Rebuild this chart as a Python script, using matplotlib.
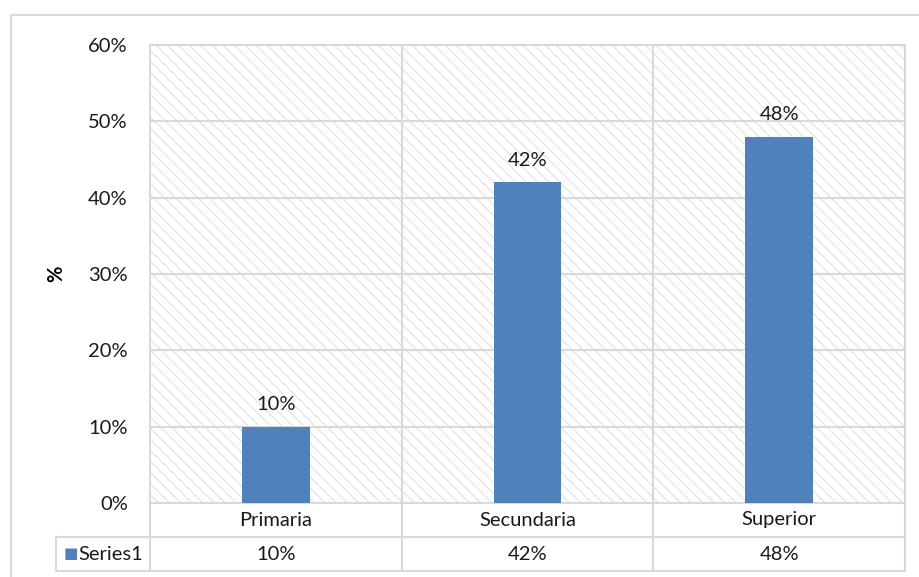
import numpy as np
import matplotlib.pyplot as plt
from matplotlib.patches import Rectangle

plt.rcParams['font.family'] = ['Lato', 'DejaVu Sans']
plt.rcParams['hatch.linewidth'] = 1.0

# datos
categorias = ['Primaria', 'Secundaria', 'Superior']
valores = [10, 42, 48]
serie = 'Series1'
yticks = [0, 10, 20, 30, 40, 50, 60]

azul = '#4F81BD'
gris = '#D9D9D9'
texto = '#1A1A1A'
fs = 14.5
W, H = 919, 577

fig = plt.figure(figsize=(W / 100, H / 100), dpi=100)

# marco del grafico
fig.add_artist(Rectangle((11 / W, -0.1), 2, (H - 15) / H + 0.1,
                         transform=fig.transFigure, fill=False,
                         edgecolor=gris, linewidth=1.5))

ax = fig.add_axes([150 / W, (H - 503) / H, (905 - 150) / W, (503 - 45) / H])

# fondo con trama diagonal
ax.add_patch(Rectangle((0, 0), 1, 1, transform=ax.transAxes, facecolor='white',
                       edgecolor='#E6E6E6', hatch='\\\\\\', linewidth=0, zorder=0))

x = np.arange(len(categorias))
ax.bar(x, valores, width=0.27, color=azul, zorder=3)
for xi, v in zip(x, valores):
    ax.annotate(f'{v}%', (xi, v), xytext=(0, 10), textcoords='offset points',
                ha='center', va='bottom', fontsize=fs, color=texto)

ax.set_xlim(-0.5, len(categorias) - 0.5)
ax.set_ylim(0, 60)
ax.set_yticks(yticks)
ax.set_yticklabels([f'{t}%' for t in yticks], fontsize=fs, color=texto)
ax.tick_params(axis='y', length=0, pad=16)
ax.set_xticks([])
for t in yticks[1:-1]:
    ax.axhline(t, color=gris, linewidth=1.5, zorder=1)
for b in np.arange(0.5, len(categorias) - 1, 1):
    ax.axvline(b, color=gris, linewidth=1.5, zorder=1)
for s in ax.spines.values():
    s.set_color(gris)
    s.set_linewidth(1.5)

ax.set_ylabel('%', fontsize=fs, fontweight='bold', labelpad=16)

# tabla de datos
fila = 34 / (503 - 45)
xmin, xmax = -0.5, len(categorias) - 0.5
trans = ax.get_xaxis_transform()
kw = dict(color=gris, linewidth=1.5, clip_on=False, transform=trans)
ax.plot([xmin, xmax], [-fila, -fila], **kw)
ax.plot([xmin, xmax], [-2 * fila, -2 * fila], **kw)
for b in np.arange(xmin, xmax + 0.01, 1):
    ax.plot([b, b], [0, -2 * fila], **kw)
for xi, c, v in zip(x, categorias, valores):
    ax.text(xi, -fila / 2, c, transform=trans, ha='center', va='center',
            fontsize=fs, color=texto)
    ax.text(xi, -1.5 * fila, f'{v}%', transform=trans, ha='center', va='center',
            fontsize=fs, color=texto)

# celda de la leyenda
ancho = (905 - 150) / 3
izq = xmin - (150 - 56) / ancho
ax.plot([izq, xmin], [-fila, -fila], **kw)
ax.plot([izq, xmin], [-2 * fila, -2 * fila], **kw)
ax.plot([izq, izq], [-fila, -2 * fila], **kw)
ax.text(izq + 8 / ancho, -1.5 * fila, '\u25A0', transform=trans, ha='left', va='center',
        fontsize=11, color=azul, family='DejaVu Sans')
ax.text(izq + 22 / ancho, -1.5 * fila, serie, transform=trans, ha='left', va='center',
        fontsize=fs, color=texto)

fig.savefig('out.png', dpi=100)
